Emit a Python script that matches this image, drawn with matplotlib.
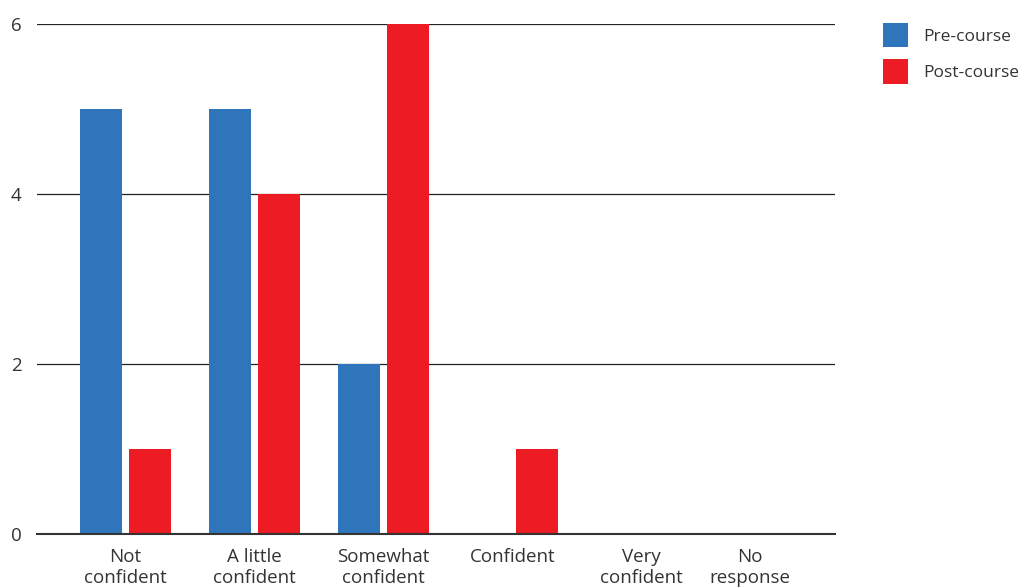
import numpy as np
import matplotlib
matplotlib.use('Agg')
import matplotlib.pyplot as plt

categories = ['Not\nconfident', 'A little\nconfident', 'Somewhat\nconfident',
              'Confident', 'Very\nconfident', 'No\nresponse']
pre_course = [5, 5, 2, 0, 0, 0]
post_course = [1, 4, 6, 1, 0, 0]
tick_pos = [0, 1, 2, 3, 4, 4.84]
y_ticks = [0, 2, 4, 6]

plt.rcParams['font.family'] = ['Open Sans', 'DejaVu Sans']

fig = plt.figure(figsize=(10.18, 5.87), dpi=100)
ax = fig.add_axes([0.0363, 0.0903, 0.7837, 0.869])

x = np.arange(len(categories))
w = 0.326
b1 = ax.bar(x - 0.19, pre_course, w, color='#2E75BB', label='Pre-course', zorder=3)
b2 = ax.bar(x + 0.19, post_course, w, color='#ED1C24', label='Post-course', zorder=3)

ax.set_xlim(-0.686, 5.5)
ax.set_ylim(0, 6)
ax.set_yticks(y_ticks)
ax.set_xticks(tick_pos)
ax.set_xticklabels(categories, linespacing=1.2)
ax.tick_params(axis='both', length=0, labelsize=13.5, colors='#333333')
ax.tick_params(axis='y', pad=11)
ax.tick_params(axis='x', pad=10)
ax.yaxis.grid(True, color='#222222', linewidth=0.9, zorder=0)
for s in ['top', 'right', 'left']:
    ax.spines[s].set_visible(False)
ax.spines['bottom'].set_color('#333333')
ax.spines['bottom'].set_linewidth(1.5)
ax.spines['bottom'].set_zorder(4)

fig.legend(handles=[b1, b2], loc='upper left', bbox_to_anchor=(0.8674, 0.961),
           frameon=False, fontsize=12.5, handlelength=1.44, handleheight=1.8,
           labelspacing=0.69, handletextpad=0.86, borderpad=0, borderaxespad=0,
           labelcolor='#333333')

fig.savefig('out.png', dpi=100)
